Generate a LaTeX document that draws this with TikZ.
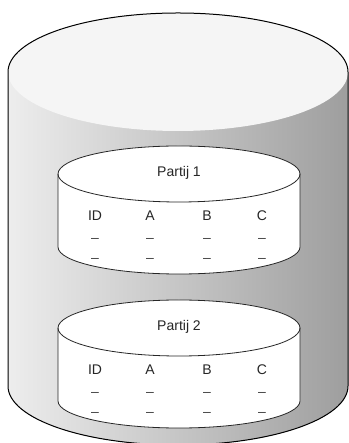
\documentclass[tikz,border=0pt]{standalone}
\usepackage{fontspec}
\setmainfont{Liberation Sans}
\usetikzlibrary{calc}
\colorlet{drumtop}{black!4}
\colorlet{drumleft}{black!7}
\colorlet{drumright}{black!38}
\colorlet{tablelines}{black!75}

\begin{document}
\begin{tikzpicture}[x=1pt, y=1pt, font=\fontsize{14}{16}\selectfont,
    cell/.style={text=black!85, inner sep=1pt}]
        \useasboundingbox (0,0) rectangle (348,443);
        \coordinate (T) at (8,371);
        \coordinate (B) at (8,57);
        % outer drum: shaded side, flat top, outline
        \fill[left color=drumleft, right color=drumright] (T) -- (B)
            arc[start angle=180, end angle=360, x radius=170pt, y radius=59pt]
            -- (348,371) -- cycle;
        \fill[drumtop] (178,371) ellipse[x radius=170pt, y radius=59pt];
        \draw[line width=1pt] (B) -- (T)
            arc[start angle=180, end angle=0, x radius=170pt, y radius=59pt]
            -- (348,57)
            arc[start angle=0, end angle=-180, x radius=170pt, y radius=59pt];
        % ~~~~~~~~~~~~~~~~~
        \foreach \n/\y in {1/269, 2/115}
        {
            \filldraw[fill=white, draw=black!85, line width=0.8pt] (58,\y) -- (58,\y-73)
                arc[start angle=180, end angle=360, x radius=121pt, y radius=27pt]
                -- (300,\y)
                arc[start angle=0, end angle=180, x radius=121pt, y radius=28pt] -- cycle;
            \draw[black!85, line width=0.8pt] (58,\y)
                arc[start angle=180, end angle=360, x radius=121pt, y radius=28pt];
            \node[cell] (name\n) at (179,\y+1) {Partij \n};
            \foreach \c/\x in {ID/95, A/150, B/207, C/262}
            {
                \node[cell] (head\n\c) at (\x,\y-42) {\c};
                \node[cell, text=tablelines] (row\n\c a) at (\x,\y-66) {–};
                \node[cell, text=tablelines] (row\n\c b) at (\x,\y-86) {–};
            }
        }
    \end{tikzpicture}
\end{document}
